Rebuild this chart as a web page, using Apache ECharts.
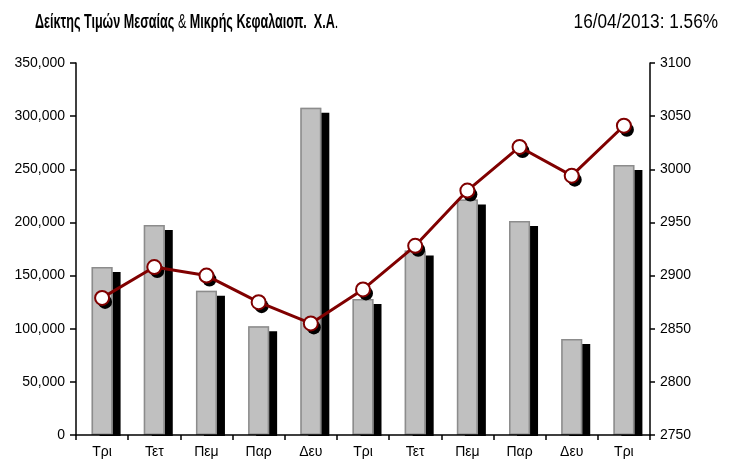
<!DOCTYPE html>
<html>
<head>
<meta charset="utf-8">
<script src="https://cdn.jsdelivr.net/npm/echarts@6/dist/echarts.min.js"></script>
<style>
    html, body { margin: 0; padding: 0; background: #fff; }
    #chart { width: 739px; height: 465px; }
</style>
</head>
<body>
<div id="chart"></div>
<script>
// ημέρες
var days = ['Τρι', 'Τετ', 'Πεμ', 'Παρ', 'Δευ', 'Τρι', 'Τετ', 'Πεμ', 'Παρ', 'Δευ', 'Τρι'];
// όγκος (αριστερός άξονας)
var volume = [158000, 197500, 135800, 102300, 308000, 128000, 173500, 221500, 201300, 90300, 254000];
// δείκτης (δεξιός άξονας)
var indexValues = [2879, 2908, 2900, 2875, 2855, 2887, 2928, 2980, 3021, 2994, 3041];
var volTicks = { min: 0, max: 350000, interval: 50000 };
var idxTicks = { min: 2750, max: 3100, interval: 50 };

var font = "'Liberation Sans', Arial, sans-serif";

var myChart = echarts.init(document.getElementById('chart'));
myChart.setOption({
    animation: false,
    grid: {
        left: 76,
        right: 89,
        top: 63,
        bottom: 30,
        containLabel: false
    },
    xAxis: {
        type: 'category',
        data: days,
        boundaryGap: true,
        z: 10,
        axisLine: { lineStyle: { color: '#000', width: 1.5 } },
        axisTick: { show: true, length: 5, lineStyle: { color: '#000', width: 1.5 } },
        axisLabel: { fontFamily: font, fontSize: 14, color: '#000', margin: 10 }
    },
    yAxis: [{
        type: 'value',
        min: volTicks.min,
        max: volTicks.max,
        interval: volTicks.interval,
        position: 'left',
        z: 10,
        splitLine: { show: false },
        axisLine: { show: true, lineStyle: { color: '#000', width: 1.5 } },
        axisTick: { show: true, length: 6, lineStyle: { color: '#000', width: 1.5 } },
        axisLabel: {
            fontFamily: font, fontSize: 14, color: '#000', margin: 11,
            formatter: function (v) { return v.toLocaleString('en-US'); }
        }
    }, {
        type: 'value',
        min: idxTicks.min,
        max: idxTicks.max,
        interval: idxTicks.interval,
        position: 'right',
        z: 10,
        splitLine: { show: false },
        axisLine: { show: true, lineStyle: { color: '#000', width: 1.5 } },
        axisTick: { show: true, length: 5, lineStyle: { color: '#000', width: 1.5 } },
        axisLabel: {
            fontFamily: font, fontSize: 14, color: '#000', margin: 10,
            formatter: function (v) { return String(v); }
        }
    }],
    series: [{
        // σκιά στηλών
        name: 'Όγκος',
        type: 'bar',
        yAxisIndex: 0,
        data: volume,
        barWidth: 21,
        z: 2,
        itemStyle: {
            color: '#c0c0c0',
            borderWidth: 0,
            shadowColor: '#000',
            shadowBlur: 0,
            shadowOffsetX: 8,
            shadowOffsetY: 5
        }
    }, {
        name: 'Όγκος',
        type: 'bar',
        yAxisIndex: 0,
        data: volume,
        barWidth: 21,
        barGap: '-100%',
        z: 3,
        itemStyle: {
            color: '#c0c0c0',
            borderColor: '#8c8c8c',
            borderWidth: 1.5
        }
    }, {
        // σκιά σημείων
        name: 'Δείκτης σκιά',
        type: 'line',
        yAxisIndex: 1,
        data: indexValues,
        symbol: 'circle',
        symbolSize: 14,
        symbolOffset: [3, 4],
        showSymbol: true,
        z: 4,
        lineStyle: { width: 0, opacity: 0 },
        itemStyle: { color: '#000', borderWidth: 0 }
    }, {
        name: 'Δείκτης',
        type: 'line',
        yAxisIndex: 1,
        data: indexValues,
        symbol: 'circle',
        symbolSize: 14,
        z: 6,
        lineStyle: { color: '#800000', width: 3 },
        itemStyle: {
            color: '#fff',
            borderColor: '#800000',
            borderWidth: 2
        }
    }]
});

// τίτλοι (στενή γραμματοσειρά) και λευκή μάσκα κάτω από τον άξονα Χ
var plotBottom = myChart.convertToPixel({ yAxisIndex: 0 }, volTicks.min);
myChart.setOption({
    graphic: [{
        type: 'rect',
        z: 5,
        shape: { x: 70, y: plotBottom + 1, width: 600, height: 30 },
        style: { fill: '#fff' },
        silent: true
    }, {
        type: 'text',
        x: 35,
        y: 12,
        scaleX: 0.63,
        z: 20,
        style: {
            text: '{b|Δείκτης Τιμών Μεσαίας }{n|&}{b| Μικρής Κεφαλαιοπ.  Χ.Α}{n|.}',
            rich: {
                b: { fontFamily: font, fontSize: 20, fontWeight: 'bold', fill: '#000' },
                n: { fontFamily: font, fontSize: 20, fill: '#000' }
            }
        }
    }, {
        type: 'text',
        x: 718,
        y: 12,
        scaleX: 0.86,
        z: 20,
        style: {
            text: '16/04/2013: 1.56%',
            align: 'right',
            fontFamily: font,
            fontSize: 20,
            fill: '#000'
        }
    }]
});
</script>
</body>
</html>
